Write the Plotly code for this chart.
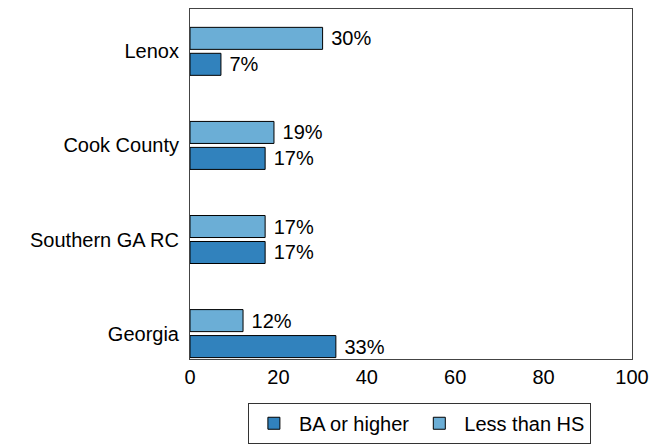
import plotly.graph_objects as go

categories = ["Georgia", "Southern GA RC", "Cook County", "Lenox"]
ba_or_higher = [33, 17, 17, 7]
less_than_hs = [12, 17, 19, 30]
x_ticks = [0, 20, 40, 60, 80, 100]

pos = list(range(len(categories)))
font = dict(family="Liberation Sans, Arial, sans-serif", size=20, color="black")

fig = go.Figure()
fig.add_trace(go.Bar(
    y=pos, x=ba_or_higher, orientation="h", name="BA or higher",
    marker=dict(color="#3182bd", line=dict(color="black", width=1)),
    width=0.234, offset=-0.255,
    text=[f" {v}%" for v in ba_or_higher], textposition="outside",
    textfont=font, cliponaxis=False,
))
fig.add_trace(go.Bar(
    y=pos, x=less_than_hs, orientation="h", name="Less than HS",
    marker=dict(color="#6baed6", line=dict(color="black", width=1)),
    width=0.234, offset=0.021,
    text=[f" {v}%" for v in less_than_hs], textposition="outside",
    textfont=font, cliponaxis=False,
))

fig.update_layout(
    width=654, height=438,
    margin=dict(l=182, r=30, t=1, b=87, autoexpand=False),
    plot_bgcolor="white", paper_bgcolor="white",
    font=font,
    barmode="overlay",
    showlegend=True,
    legend=dict(
        orientation="h", x=0.519, xanchor="center", y=-0.125, yanchor="top",
        bordercolor="#333", borderwidth=1, font=font,
        itemwidth=40, tracegroupgap=0,
    ),
    xaxis=dict(
        range=[0, 100], tickvals=x_ticks, ticktext=[str(t) for t in x_ticks],
        showgrid=False, zeroline=False, showline=True, linecolor="#444",
        linewidth=1, mirror=True, ticks="", tickfont=font, automargin=False,
    ),
    yaxis=dict(
        range=[-0.27, 3.45], tickvals=pos, ticktext=categories,
        showgrid=False, zeroline=False, showline=True, linecolor="#444",
        linewidth=1, mirror=True, ticks="", tickfont=font, automargin=False,
        ticklabelstandoff=6,
    ),
)

fig.write_html("out.html")
